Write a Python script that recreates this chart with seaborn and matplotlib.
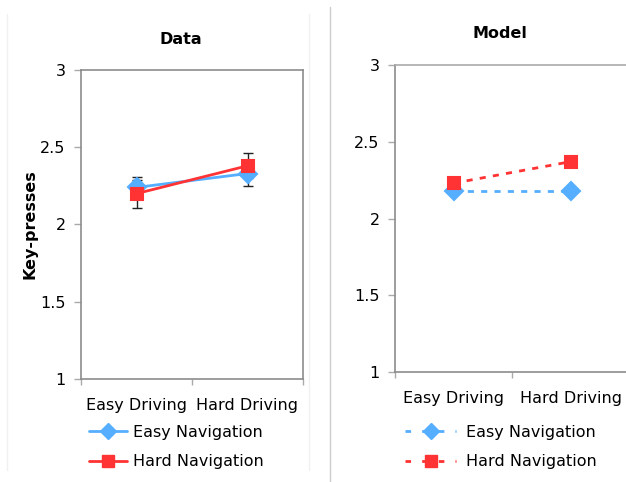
import pandas as pd
import matplotlib
matplotlib.use('Agg')
import matplotlib.pyplot as plt
from matplotlib.lines import Line2D
import seaborn as sns

# values
driving = ['Easy Driving', 'Hard Driving']
navigation = ['Easy Navigation', 'Hard Navigation']
data_easy_nav = [2.24, 2.33]
data_hard_nav = [2.20, 2.38]
data_easy_err = [0.07, 0.08]
data_hard_err = [0.09, 0.08]
model_easy_nav = [2.18, 2.18]
model_hard_nav = [2.23, 2.37]

blue = '#55AEFF'
red = '#FF3333'
spine_grey = '#8c8c8c'

sns.set_theme(style='white')
plt.rcParams['font.family'] = ['DejaVu Sans']
plt.rcParams['text.color'] = 'black'
plt.rcParams['xtick.color'] = 'black'
plt.rcParams['ytick.color'] = 'black'

def make_df(easy, hard):
    return pd.DataFrame({
        'driving': driving * 2,
        'navigation': [navigation[0]] * 2 + [navigation[1]] * 2,
        'presses': easy + hard,
    })

data_df = make_df(data_easy_nav, data_hard_nav)
model_df = make_df(model_easy_nav, model_hard_nav)

W, H = 626, 482
fs = 11.5
fig = plt.figure(figsize=(W / 100, H / 100), dpi=100)

def px_axes(x0, y0, x1, y1):
    return fig.add_axes([x0 / W, 1 - y1 / H, (x1 - x0) / W, (y1 - y0) / H])

ax1 = px_axes(81, 70, 303, 379)
ax2 = px_axes(395, 65, 629, 372)

# panel frames / divider
fig.add_artist(Line2D([7 / W, 7 / W], [1 - 14 / H, 1 - 470 / H], color='#f0f0f0', lw=1))
fig.add_artist(Line2D([309 / W, 309 / W], [1 - 14 / H, 1 - 470 / H], color='#f0f0f0', lw=1))
fig.add_artist(Line2D([330 / W, 330 / W], [1 - 7 / H, 0], color='#cccccc', lw=1))

dash = (0, (2.2, 2.6))

# Data panel
for vals, errs in [(data_easy_nav, data_easy_err), (data_hard_nav, data_hard_err)]:
    ax1.errorbar([0, 1], vals, yerr=errs, fmt='none', ecolor='#222222',
                 elinewidth=1, capsize=3.5, capthick=1, zorder=1)
sns.pointplot(data=data_df, x='driving', y='presses', hue='navigation',
              palette=[blue, red], markers=['D', 's'], linestyles=['-', '-'],
              errorbar=None, markersize=9, linewidth=2, legend=False, ax=ax1)

# Model panel
sns.pointplot(data=model_df, x='driving', y='presses', hue='navigation',
              palette=[blue, red], markers=['D', 's'], linestyles=[dash, dash],
              errorbar=None, markersize=9, linewidth=2, legend=False, ax=ax2)

for ax in (ax1, ax2):
    ax.set_ylim(1, 3)
    ax.set_xlim(-0.5, 1.5)
    ax.set_yticks([1, 1.5, 2, 2.5, 3])
    ax.set_yticklabels(['1', '1.5', '2', '2.5', '3'])
    ax.set_xticks([0, 1])
    ax.set_xticklabels(driving)
    ax.set_xticks([-0.5, 0.5, 1.5], minor=True)
    ax.tick_params(axis='x', which='major', length=0, pad=14, labelsize=fs)
    ax.tick_params(axis='x', which='minor', length=4, width=1, color='#aaaaaa', bottom=True)
    ax.tick_params(axis='y', length=5, width=1, color='#aaaaaa', pad=6, labelsize=fs, left=True)
    ax.set_xlabel('')
    ax.set_ylabel('')
    ax.grid(False)
    for s in ax.spines.values():
        s.set_color(spine_grey)
        s.set_linewidth(1.2)
ax2.spines['top'].set_color('#aaaaaa')

fig.text(181 / W, 1 - 40 / H, 'Data', ha='center', va='center', fontsize=fs, weight='bold')
fig.text(500 / W, 1 - 34 / H, 'Model', ha='center', va='center', fontsize=fs, weight='bold')
fig.text(30 / W, 1 - 224 / H, 'Key-presses', rotation=90, ha='center', va='center',
         fontsize=fs, weight='bold')

# legends below each panel
h1 = [Line2D([], [], color=blue, marker='D', markersize=8, lw=2),
      Line2D([], [], color=red, marker='s', markersize=8, lw=2)]
fig.legend(handles=h1, labels=navigation, loc='upper left',
           bbox_to_anchor=(89 / W, 1 - 425 / H), frameon=False, fontsize=fs,
           handlelength=2.4, handletextpad=0.35, labelspacing=0.9,
           borderpad=0, borderaxespad=0)
h2 = [Line2D([], [], color=blue, marker='D', markersize=8, lw=2, ls=(0, (2, 4))),
      Line2D([], [], color=red, marker='s', markersize=8, lw=2, ls=(0, (2, 4)))]
fig.legend(handles=h2, labels=navigation, loc='upper left',
           bbox_to_anchor=(405 / W, 1 - 425 / H), frameon=False, fontsize=fs,
           handlelength=3.2, handletextpad=0.6, labelspacing=0.9,
           borderpad=0, borderaxespad=0)

fig.savefig('out.png', dpi=100)
